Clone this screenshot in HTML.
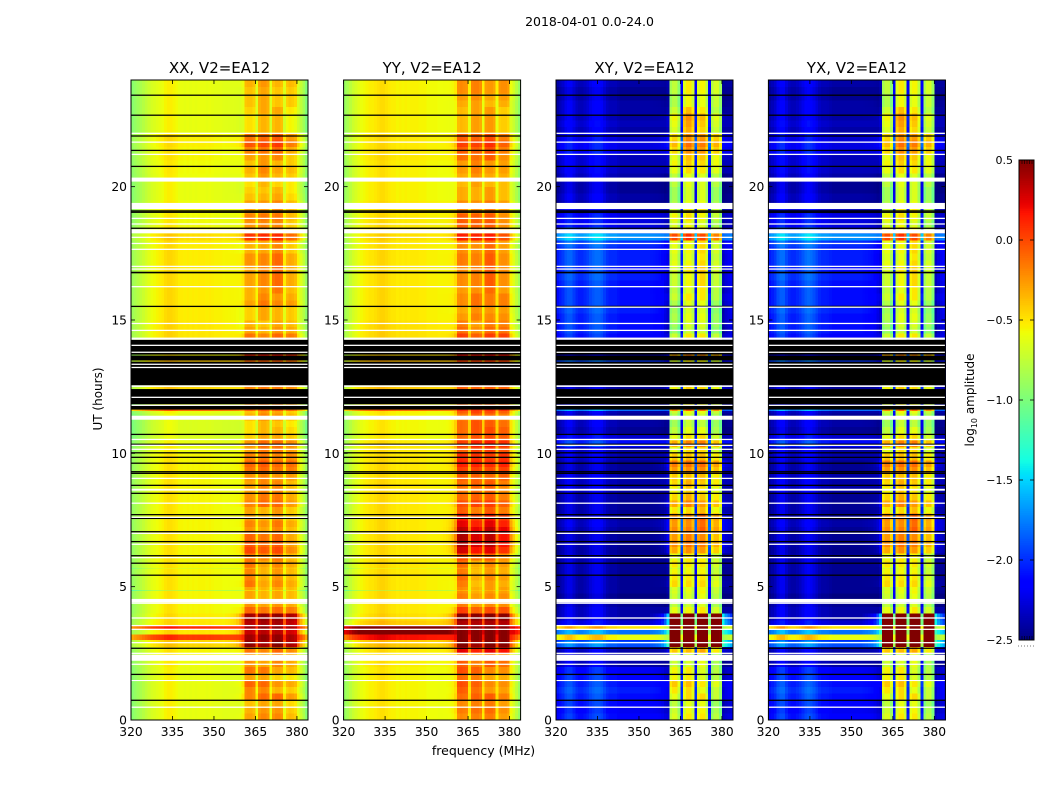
<!DOCTYPE html>
<html>
<head>
<meta charset="utf-8">
<title>2018-04-01 amplitude waterfall</title>
<style>
html,body{margin:0;padding:0;background:#fff;width:1050px;height:800px;overflow:hidden}
svg{display:block}
text{font-family:"DejaVu Sans","Liberation Sans",sans-serif;fill:#000}
</style>
</head>
<body>
<svg id="figure" xmlns="http://www.w3.org/2000/svg" width="1050" height="800" viewBox="0 0 1050 800">
  <rect x="0" y="0" width="1050" height="800" fill="#fff"/>
  <text x="589.5" y="26" font-size="12.5" text-anchor="middle">2018-04-01 0.0-24.0</text>
  <text transform="translate(102,399) rotate(-90)" font-size="12" text-anchor="middle">UT (hours)</text>
  <text x="483.5" y="755" font-size="12.5" text-anchor="middle">frequency (MHz)</text>
  <text transform="translate(974,400) rotate(-90)" font-size="12" text-anchor="middle">log<tspan font-size="8" dy="3">10</tspan><tspan dy="-3"> amplitude</tspan></text>
  <g id="panels"></g>
  <g id="colorbar"></g>
</svg>
<script>
// ---------- tick labels ----------
const freqTicks = [320, 335, 350, 365, 380];
const timeTicks = [0, 5, 10, 15, 20];
const colorTicks = [-2.5, -2.0, -1.5, -1.0, -0.5, 0.0, 0.5];
const panelTitles = ["XX, V2=EA12", "YY, V2=EA12", "XY, V2=EA12", "YX, V2=EA12"];

// ---------- spectra: log10 amplitude per 1 MHz channel, 320..383 MHz ----------
const spectrumXX = [-0.9,-0.86,-0.82,-0.78,-0.74,-0.7,-0.66,-0.62,-0.6,-0.58,-0.56,-0.54,-0.5,-0.48,-0.48,-0.5,-0.52,-0.55,-0.55,-0.56,-0.55,-0.56,-0.55,-0.56,-0.55,-0.55,-0.55,-0.56,-0.55,-0.56,-0.57,-0.57,-0.57,-0.58,-0.58,-0.58,-0.58,-0.58,-0.58,-0.58,-0.54,-0.3,-0.28,-0.28,-0.32,-0.56,-0.28,-0.24,-0.24,-0.28,-0.56,-0.28,-0.24,-0.24,-0.28,-0.56,-0.34,-0.3,-0.32,-0.36,-0.58,-0.68,-0.78,-0.92];
const spectrumYY = [-0.86,-0.8,-0.74,-0.68,-0.64,-0.6,-0.56,-0.54,-0.52,-0.5,-0.5,-0.48,-0.46,-0.44,-0.44,-0.46,-0.48,-0.5,-0.5,-0.52,-0.51,-0.52,-0.51,-0.52,-0.51,-0.51,-0.51,-0.52,-0.52,-0.52,-0.54,-0.54,-0.54,-0.54,-0.55,-0.55,-0.55,-0.55,-0.55,-0.54,-0.5,-0.22,-0.2,-0.22,-0.24,-0.52,-0.24,-0.22,-0.22,-0.26,-0.52,-0.22,-0.2,-0.2,-0.24,-0.52,-0.24,-0.22,-0.22,-0.26,-0.58,-0.66,-0.76,-0.88];
const spectrumXY = [-2.5,-2.45,-2.4,-2.32,-2.28,-2.28,-2.35,-2.42,-2.45,-2.45,-2.42,-2.38,-2.32,-2.28,-2.25,-2.25,-2.28,-2.35,-2.42,-2.45,-2.45,-2.45,-2.48,-2.5,-2.5,-2.5,-2.5,-2.5,-2.5,-2.5,-2.5,-2.5,-2.5,-2.5,-2.5,-2.5,-2.5,-2.5,-2.5,-2.5,-2.45,-0.9,-0.8,-0.8,-1.0,-2.2,-0.78,-0.66,-0.66,-0.82,-2.2,-0.78,-0.7,-0.7,-0.92,-2.2,-0.95,-0.82,-0.82,-1.02,-2.5,-2.5,-2.5,-2.5];
const spectrumYX = [-2.5,-2.45,-2.4,-2.3,-2.25,-2.25,-2.35,-2.42,-2.45,-2.45,-2.42,-2.38,-2.32,-2.26,-2.23,-2.25,-2.3,-2.36,-2.42,-2.45,-2.45,-2.46,-2.48,-2.5,-2.5,-2.5,-2.5,-2.5,-2.5,-2.5,-2.5,-2.5,-2.5,-2.5,-2.5,-2.5,-2.5,-2.5,-2.5,-2.5,-2.45,-0.9,-0.8,-0.8,-1.0,-2.2,-0.78,-0.66,-0.66,-0.82,-2.2,-0.78,-0.7,-0.7,-0.92,-2.2,-0.95,-0.82,-0.82,-1.02,-2.5,-2.5,-2.5,-2.5];
// how strongly a channel follows the receiver-band time series rather than the background one
const bandShare = [0,0,0,0,0,0,0,0,0,0,0,0,0,0,0,0,0,0,0,0,0,0,0,0,0,0,0,0,0,0,0,0,0,0,0.03,0.05,0.08,0.12,0.2,0.35,0.6,1,1,1,1,0.75,1,1,1,1,0.75,1,1,1,1,0.75,1,1,1,1,0.7,0.5,0.4,0.3];

// ---------- time series: offset per 0.25 h row, 0..24 h (four values = one hour) ----------
const bandXX = [0,-.05,-.1,.1, 0,.1,-.1,.05, 0,0,.1,.7, .7,.6,.65,.7, .15,0,-.05,-.05, .05,0,0,.05, .05,.2,.15,.1, 0,.05,-.05,-.05, .1,.05,0,0, 0,.1,.15,.05, .05,.1,-.1,-.15, -.15,0,-.05,.1, .05,.1,.1,.1, .1,.1,.1,.1, .1,.1,-.05,-.1, -.1,-.1,.05,0, 0,.05,.05,.05, .05,.05,-.05,-.05, .3,0,0,.05, 0,0,-.1,-.15, -.15,-.05,0,-.05, -.05,.05,.2,.1, -.15,-.15,-.15,-.1, -.1,-.1,-.1,-.05];
const bandYY = [0,.05,0,.1, .05,.1,0,.1, .1,0,.4,.7, .7,.7,.6,.7, .2,0,0,-.05, -.05,0,-.05,0, .1,.4,.5,.5, .5,.4,.3,.1, .2,.1,.05,.1, .1,.2,.3,.25, .2,.3,.15,.15, .15,.1,.2,.2, .2,.2,.2,.2, .2,.2,.2,.2, .2,.2,.05,0, 0,-.05,.05,.05, 0,.05,.05,.05, .05,.05,0,0, .3,.05,.1,.1, 0,0,-.1,-.1, -.1,-.05,0,0, .05,.1,.2,.1, -.1,-.1,-.1,-.1, -.1,-.05,0,0];
const bandXY = [.1,.05,0,.15, .1,.2,.05,.05, 0,0,.3,1.6, 1.6,1.5,1.5,1.5, .1,-.05,0,.05, .15,.1,.05,.1, .05,.35,.45,.4, .5,.45,.5,.2, .35,.2,.1,.2, .2,.35,.45,.2, .1,.4,.1,-.05, -.05,0,.1,.1, .1,.1,.1,.1, .1,.1,.1,.1, 0,.1,-.1,-.05, 0,-.05,0,.1, 0,.05,.05,.1, .1,.05,.1,.1, .65,.1,0,.1, .1,0,-.05,-.05, -.05,-.05,.1,.15, .2,.35,.45,.35, .1,.15,.2,.05, 0,0,.05,.05];
const bandYX = [.1,.05,0,.15, .1,.2,.05,.05, 0,0,.3,1.6, 1.6,1.5,1.5,1.5, .1,-.05,0,.05, .15,.1,.05,.1, .05,.35,.45,.4, .5,.45,.5,.2, .35,.2,.1,.2, .2,.35,.45,.2, .1,.4,.1,-.05, -.05,0,.1,.1, .1,.1,.1,.1, .1,.1,.1,.1, 0,.1,-.1,-.05, 0,-.05,0,.1, 0,.05,.05,.1, .1,.05,.1,.1, .65,.1,0,.1, .1,0,-.05,-.05, -.05,-.05,.1,.15, .2,.35,.45,.35, .1,.15,.2,.05, 0,0,.05,.05];

const backgroundXX = [-.05,-.05,-.05,-.05, -.05,-.05,-.05,-.05, -.03,0,0,.1, .1,.1,.05,.03, 0,0,0,0, 0,0,0,0, 0,0,0,0, 0,0,0,0, 0,0,0,0, 0,0,0,0, -.03,-.05,-.1,-.1, -.1,-.1,-.05,-.05, 0,0,0,0, 0,0,0,0, 0,.05,.05,.05, .03,.03,.03,.03, .03,.03,.03,.03, .03,.03,.03,.03, .08,0,-.02,-.02, -.02,-.03,-.05,-.05, -.05,-.03,-.02,-.02, 0,0,.02,.02, -.05,-.05,-.05,-.05, -.05,-.05,-.05,-.05];
const backgroundYY = [-.04,-.04,-.04,-.04, -.04,-.04,-.04,-.04, -.02,0,0,.1, .1,.1,.1,.03, 0,0,0,0, 0,0,0,0, 0,0,0,0, 0,0,0,0, 0,0,0,0, 0,0,0,0, 0,0,-.05,-.05, -.05,-.05,-.03,-.03, 0,0,0,0, 0,0,0,0, 0,.03,.03,.03, 0,0,0,0, 0,0,0,0, 0,0,0,0, .03,0,0,0, 0,0,-.03,-.03, -.03,-.03,-.03,-.02, 0,0,0,0, -.03,-.03,-.03,-.03, -.03,-.03,-.03,-.03];
const backgroundXY = [.35,.3,.35,.4, .45,.4,.35,.3, .1,.05,.1,.6, .3,.3,.2,.1, .1,.05,0,.05, .05,.05,.05,.05, .05,.03,.05,.05, .05,.1,.05,.05, .05,.05,.1,.1, .1,.05,.05,.1, .1,.4,.2,.05, .1,.05,.1,.1, .15,.15,.15,.15, .15,.15,.1,.15, .2,.35,.4,.4, .4,.45,.4,.4, .4,.4,.45,.4, .45,.45,.45,.5, .8,.4,.25,.25, .15,.05,.1,.05, .05,.1,.15,.15, .15,.25,.25,.2, .1,.15,.1,.1, .1,.05,.05,.1];
const backgroundYX = [.35,.3,.35,.4, .45,.4,.35,.3, .1,.05,.1,.6, .3,.3,.2,.1, .1,.05,0,.05, .05,.05,.05,.05, .05,.03,.05,.05, .05,.1,.05,.05, .05,.05,.1,.1, .1,.05,.05,.1, .1,.4,.2,.05, .1,.05,.1,.1, .15,.15,.15,.15, .15,.15,.1,.15, .2,.35,.4,.4, .4,.45,.4,.4, .4,.4,.45,.4, .45,.45,.45,.5, .8,.4,.25,.25, .15,.05,.1,.05, .05,.1,.15,.15, .15,.25,.25,.2, .1,.15,.1,.1, .1,.05,.05,.1];

// ---------- sub-band contrast: one group per hour, one value per sub-band (361-365, 366-370, 371-375, 376-380 MHz) ----------
const subbandParallel = [0,.05,.05,-.05, .1,.05,-.1,-.1, .05,-.05,.05,0, 0,0,0,0, .05,-.05,0,0, .1,-.1,0,-.05, .1,0,.05,-.1, .05,-.05,.05,-.05, 0,.05,.05,-.05, .05,.05,0,.05, -.05,.05,.05,0, -.05,.05,0,-.05, 0,0,0,0, 0,0,0,0, .05,-.05,.05,.05, -.05,.05,0,0, -.05,0,.1,-.05, 0,0,.1,-.05, .05,.05,.05,-.1, 0,0,.05,-.05, -.05,.05,-.05,-.05, .05,.05,.1,-.05, -.05,.05,.05,-.1, 0,.05,-.05,0];
const subbandCross = [.05,.05,.1,-.05, .2,.1,0,0, .1,0,.1,0, 0,0,0,0, .1,0,.1,.05, .2,.05,.1,.05, .15,.1,.1,.05, .1,0,.15,.05, .15,.15,.1,.1, .2,.1,.15,.1, .1,.1,.15,.05, 0,0,0,0, 0,0,0,0, 0,0,0,0, 0,.05,.1,0, 0,.05,.1,-.05, .05,.05,.2,.05, .1,0,.15,.05, .15,.1,.05,0, 0,.05,.1,0, .1,.1,.1,.1, 0,.1,.1,.05, .05,.25,.15,0, 0,.1,.1,.1];

// ---------- short bursts narrower than a row (UT hours), with their background and band offsets ----------
const burstSpans = [[3.0,3.2],[3.2,3.42],[3.42,3.52],[11.58,11.64],[11.79,11.84],[12.41,12.49],[13.44,13.48],[13.67,13.7],[4.85,4.88],[5.66,5.69]];
const burstBackgroundXX = [.6,.05,.65,.45,-.1,.1,.15,0,-.45,-.2];
const burstBandXX = [.7,.6,.7,.2,0,.1,.2,.4,-.3,-.1];
const burstBackgroundYY = [.7,1.1,1.1,.4,-.05,.1,.15,.05,-.45,-.2];
const burstBandYY = [.7,.7,.7,.3,.05,.15,.25,.4,-.2,-.1];
const burstBackgroundXY = [1.9,.7,2.0,.7,.05,.05,.55,.05,.05,.05];
const burstBandXY = [1.5,1.5,1.5,.6,.2,.25,.15,.5,.1,.05];
const burstBackgroundYX = [1.9,.7,2.0,.7,.05,.05,.55,.05,.05,.05];
const burstBandYX = [1.5,1.5,1.5,.6,.2,.25,.15,.5,.1,.05];

// ---------- flagged times (UT hours) ----------
const missingLines = [22.0,21.67,21.21,18.81,18.6,18.1,17.87,17.65,17.01,16.91,16.25,14.87,14.61,14.05,13.79,13.34,13.22,12.1,11.8,10.52,10.3,10.15,9.06,8.13,7.6,7.0,6.59,6.09,4.38,3.54,3.4,2.9,2.5,2.09,0.48];
const missingSpans = [[20.19,20.34],[19.16,19.39],[18.25,18.4],[14.26,14.34],[12.49,12.55],[11.26,11.41],[8.6,8.67],[4.41,4.54],[3.8,3.85],[2.22,2.45],[1.46,1.5]];
const crossOnlyMissingLines = [15.48];
const badLines = [23.43,22.68,21.9,21.36,20.76,19.09,19.04,18.44,15.51,10.71,10.34,10.02,9.85,9.63,9.31,9.25,8.8,8.5,7.7,7.56,7.06,6.69,6.16,5.88,5.43,2.69,1.71,0.74];
const badSpans = [[16.75,16.81],[13.7,14.26],[13.48,13.67],[12.55,13.44],[11.84,12.41],[11.64,11.79]];

// ---------- scales ----------
const freqMin = 320, freqMax = 384, timeMin = 0, timeMax = 24, colorMin = -2.5, colorMax = 0.5;
const rowHours = 0.25, channelMHz = 1, subbandStart = 41, subbandChannels = 5, subbandCount = 4;
const plotTop = 80, plotBottom = 720, plotWidth = 177;
const panelLefts = [131, 343.6, 556, 768.4];
const barLeft = 1019, barRight = 1034, barTop = 160, barBottom = 640, barSteps = 256;
const NS = "http://www.w3.org/2000/svg";

function xScale(left, f) { return left + (f - freqMin) / (freqMax - freqMin) * plotWidth; }
function yScale(h) { return plotBottom - (h - timeMin) / (timeMax - timeMin) * (plotBottom - plotTop); }
function colorY(v) { return barBottom - (v - colorMin) / (colorMax - colorMin) * (barBottom - barTop); }
function ramp(x, pts) {
  for (let i = 1; i < pts.length; i++) {
    if (x <= pts[i][0]) {
      const a = pts[i - 1], b = pts[i];
      return a[1] + (b[1] - a[1]) * (x - a[0]) / (b[0] - a[0]);
    }
  }
  return pts[pts.length - 1][1];
}
function jet(v) {
  const t = Math.max(0, Math.min(1, (v - colorMin) / (colorMax - colorMin)));
  const r = ramp(t, [[0,0],[.35,0],[.66,1],[.89,1],[1,.5]]);
  const g = ramp(t, [[0,0],[.125,0],[.375,1],[.64,1],[.91,0],[1,0]]);
  const b = ramp(t, [[0,.5],[.11,1],[.34,1],[.65,0],[1,0]]);
  return "rgb(" + Math.round(r * 255) + "," + Math.round(g * 255) + "," + Math.round(b * 255) + ")";
}
function make(tag, attrs, parent) {
  const el = document.createElementNS(NS, tag);
  for (const k in attrs) el.setAttribute(k, attrs[k]);
  if (parent) parent.appendChild(el);
  return el;
}
function labelText(v) { return v < 0 ? "\u2212" + Math.abs(v).toFixed(1) : v.toFixed(1); }
function subbandOf(c) {
  const s = Math.floor((c - subbandStart) / subbandChannels);
  const inside = c >= subbandStart && s < subbandCount && (c - subbandStart) % subbandChannels !== subbandChannels - 1;
  return inside ? s : -1;
}

// ---------- panels ----------
const panelSpectra = [spectrumXX, spectrumYY, spectrumXY, spectrumYX];
const panelBands = [bandXX, bandYY, bandXY, bandYX];
const panelBackgrounds = [backgroundXX, backgroundYY, backgroundXY, backgroundYX];
const panelSubbands = [subbandParallel, subbandParallel, subbandCross, subbandCross];
const panelBurstBackgrounds = [burstBackgroundXX, burstBackgroundYY, burstBackgroundXY, burstBackgroundYX];
const panelBurstBands = [burstBandXX, burstBandYY, burstBandXY, burstBandYX];
const panelsGroup = document.getElementById("panels");

panelTitles.forEach(function (title, p) {
  const left = panelLefts[p];
  const spectrum = panelSpectra[p], band = panelBands[p], background = panelBackgrounds[p], subbands = panelSubbands[p];
  const g = make("g", {}, panelsGroup);
  
  

  const cells = make("g", { "shape-rendering": "crispEdges" }, g);
  
  
  const frag = document.createDocumentFragment();
  band.forEach(function (bandValue, r) {
    const h = r * rowHours;
    const hourIndex = Math.floor(h);
    const y0 = yScale(h + rowHours), y1 = yScale(h);
    spectrum.forEach(function (level, c) {
      const f = freqMin + c * channelMHz;
      const x0 = xScale(left, f), x1 = xScale(left, f + channelMHz);
      const share = bandShare[c];
      const s = subbandOf(c);
      const contrast = s >= 0 ? subbands[hourIndex * subbandCount + s] : 0;
      const value = level + share * bandValue + (1 - share) * background[r] + contrast;
      const cell = make("rect", { x: x0.toFixed(2), y: y0.toFixed(2), width: (x1 - x0 + .4).toFixed(2), height: (y1 - y0 + .4).toFixed(2), fill: jet(value) }, frag);
      
      
    });
  });
  burstSpans.forEach(function (span, b) {
    const y0 = yScale(span[1]), y1 = yScale(span[0]);
    spectrum.forEach(function (level, c) {
      const f = freqMin + c * channelMHz;
      const x0 = xScale(left, f), x1 = xScale(left, f + channelMHz);
      const share = bandShare[c];
      const value = level + share * panelBurstBands[p][b] + (1 - share) * panelBurstBackgrounds[p][b];
      const cell = make("rect", { x: x0.toFixed(2), y: y0.toFixed(2), width: (x1 - x0 + .4).toFixed(2), height: (y1 - y0).toFixed(2), fill: jet(value) }, frag);
      
      
    });
  });
  cells.appendChild(frag);

  function flag(from, to, color, name) {
    const bar = make("rect", { x: left, y: yScale(to).toFixed(2), width: plotWidth, height: (yScale(from) - yScale(to)).toFixed(2), fill: color }, g);
    
    
  }
  const lineHalf = 0.024;
  badSpans.forEach(function (s) { flag(s[0], s[1], "#000", "bad-data-span"); });
  badLines.forEach(function (h) { flag(h - lineHalf, h + lineHalf, "#000", "bad-data-line"); });
  missingSpans.forEach(function (s) { flag(s[0], s[1], "#fff", "missing-data-span"); });
  missingLines.forEach(function (h) { flag(h - lineHalf, h + lineHalf, "#fff", "missing-data-line"); });
  if (p >= 2) crossOnlyMissingLines.forEach(function (h) { flag(h - lineHalf, h + lineHalf, "#fff", "missing-data-line"); });

  const frame = make("rect", { x: left, y: plotTop, width: plotWidth, height: plotBottom - plotTop, fill: "none", stroke: "#000", "stroke-width": 1 }, g);
  
  

  const titleEl = make("text", { x: left + plotWidth / 2, y: 73, "font-size": 15, "text-anchor": "middle" }, g);
  titleEl.textContent = title;
  
  

  freqTicks.forEach(function (f) {
    const x = xScale(left, f);
    const tickB = make("line", { x1: x, x2: x, y1: plotBottom, y2: plotBottom - 4, stroke: "#000", "stroke-width": 0.8 }, g);
    
    
    const tickT = make("line", { x1: x, x2: x, y1: plotTop, y2: plotTop + 4, stroke: "#000", "stroke-width": 0.8 }, g);
    
    
    const lab = make("text", { x: x, y: 736, "font-size": 12.3, "text-anchor": "middle" }, g);
    lab.textContent = String(f);
    
    
  });
  timeTicks.forEach(function (h) {
    const y = yScale(h);
    const tickL = make("line", { x1: left, x2: left + 4, y1: y, y2: y, stroke: "#000", "stroke-width": 0.8 }, g);
    
    
    const tickR = make("line", { x1: left + plotWidth, x2: left + plotWidth - 4, y1: y, y2: y, stroke: "#000", "stroke-width": 0.8 }, g);
    
    
    const lab = make("text", { x: left - 4, y: y + 4.5, "font-size": 12.3, "text-anchor": "end" }, g);
    lab.textContent = String(h);
    
    
  });
});

// ---------- colorbar ----------
const cb = document.getElementById("colorbar");
const cbRamp = make("g", { "shape-rendering": "crispEdges" }, cb);


for (let i = 0; i < barSteps; i++) {
  const v0 = colorMin + (colorMax - colorMin) * i / barSteps;
  const v1 = colorMin + (colorMax - colorMin) * (i + 1) / barSteps;
  const s = make("rect", { x: barLeft, y: colorY(v1).toFixed(2), width: barRight - barLeft, height: (colorY(v0) - colorY(v1) + .4).toFixed(2), fill: jet((v0 + v1) / 2) }, cbRamp);
  
  
}
const cbFrame = make("rect", { x: barLeft, y: barTop, width: barRight - barLeft, height: barBottom - barTop, fill: "none", stroke: "#000", "stroke-width": 1 }, cb);


colorTicks.forEach(function (v) {
  const y = colorY(v);
  const t1 = make("line", { x1: barLeft, x2: barLeft + 4, y1: y, y2: y, stroke: "#000", "stroke-width": 0.8 }, cb);
  
  
  const t2 = make("line", { x1: barRight, x2: barRight - 4, y1: y, y2: y, stroke: "#000", "stroke-width": 0.8 }, cb);
  
  
  const lab = make("text", { x: barLeft - 6, y: y + 4, "font-size": 11, "text-anchor": "end" }, cb);
  lab.textContent = labelText(v);
  
  
});
[1022, 1024.5, 1027, 1029.5, 1032].forEach(function (x) {
  const top = make("line", { x1: x, x2: x, y1: barTop, y2: barTop + 4, stroke: "#000", "stroke-width": 0.6 }, cb);
  
  
  const bottom = make("line", { x1: x, x2: x, y1: barBottom, y2: barBottom - 4, stroke: "#000", "stroke-width": 0.6 }, cb);
  
  
});
const dots = make("line", { x1: 1018, x2: 1035, y1: 646, y2: 646, stroke: "#777", "stroke-width": 1, "stroke-dasharray": "1 2" }, cb);


</script>
</body>
</html>
